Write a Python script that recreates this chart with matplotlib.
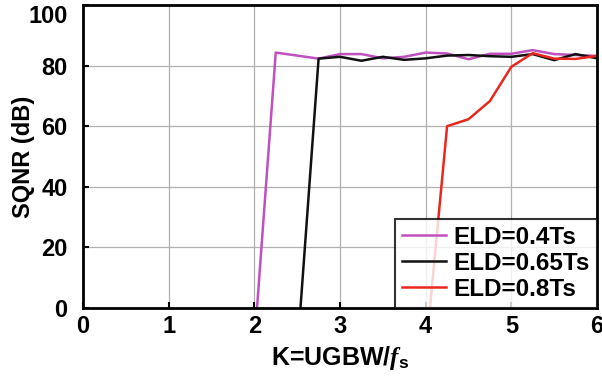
import matplotlib.pyplot as plt
import matplotlib.transforms as mtransforms

plt.rcParams['font.family'] = 'Liberation Sans'
plt.rcParams['font.weight'] = 'bold'
plt.rcParams['mathtext.fontset'] = 'custom'
plt.rcParams['mathtext.rm'] = 'Liberation Sans:bold'
plt.rcParams['mathtext.it'] = 'Liberation Serif:italic:bold'

# SQNR vs K for three excess loop delays
k_04 = [2.0, 2.25, 2.75, 3.0, 3.25, 3.5, 3.75, 4.0, 4.25, 4.5, 4.75, 5.0, 5.25, 5.5, 5.75, 6.0]
sqnr_04 = [-12, 84.3, 82.3, 83.8, 83.8, 82.4, 82.9, 84.3, 84.0, 82.1, 83.9, 83.9, 85.1, 83.8, 83.5, 83.2]

k_065 = [2.5, 2.75, 3.0, 3.25, 3.5, 3.75, 4.0, 4.25, 4.5, 4.75, 5.0, 5.25, 5.5, 5.75, 6.0]
sqnr_065 = [-15, 82.3, 82.9, 81.6, 82.9, 81.9, 82.4, 83.3, 83.5, 83.1, 82.9, 83.8, 81.8, 83.8, 82.4]

k_08 = [4.0, 4.25, 4.5, 4.75, 5.0, 5.25, 5.5, 5.75, 6.0]
sqnr_08 = [-15, 60.0, 62.3, 68.3, 79.6, 84.1, 82.3, 82.2, 83.2]

fig = plt.figure(figsize=(6.02, 3.79), dpi=100)
ax = fig.add_axes([83/602, 1-308/379, (597-83)/602, (308-5)/379])

ax.plot(k_04, sqnr_04, color='#C050C0', lw=1.8, label='ELD=0.4Ts')
ax.plot(k_065, sqnr_065, color='#111111', lw=1.8, label='ELD=0.65Ts')
ax.plot(k_08, sqnr_08, color='#E8281E', lw=1.8, label='ELD=0.8Ts')

ax.set_xlim(0, 6)
ax.set_ylim(0, 100)
ax.set_xticks(range(0, 7))
ax.set_yticks(range(0, 101, 20))
ax.grid(True, color='#b0b0b0', lw=0.9)
ax.tick_params(direction='in', length=4, width=1.5, labelsize=17)
ax.tick_params(axis='y', pad=11)
ax.tick_params(axis='x', pad=5)
for s in ax.spines.values():
    s.set_linewidth(2)

# top label sits a bit lower in the original
lab100 = ax.get_yticklabels()[-1]
lab100.set_transform(lab100.get_transform() +
                     mtransforms.ScaledTranslation(0, -9/100, fig.dpi_scale_trans))

ax.set_xlabel(r'K=UGBW/$\mathit{f}_\mathrm{s}$', fontsize=18, fontweight='bold')
ax.xaxis.set_label_coords(0.5, -0.12)
ax.set_ylabel('SQNR (dB)', fontsize=17, fontweight='bold')
ax.yaxis.set_label_coords(-0.093, 0.5)

leg = ax.legend(loc='lower right', fontsize=17.5, frameon=True, fancybox=False,
                borderaxespad=0, handlelength=1.8, handletextpad=0.3,
                labelspacing=0.12, borderpad=0.3)
leg.get_frame().set_edgecolor('black')
leg.get_frame().set_linewidth(1.5)
for t in leg.get_texts():
    t.set_fontweight('bold')

fig.savefig('out.png', dpi=100)
